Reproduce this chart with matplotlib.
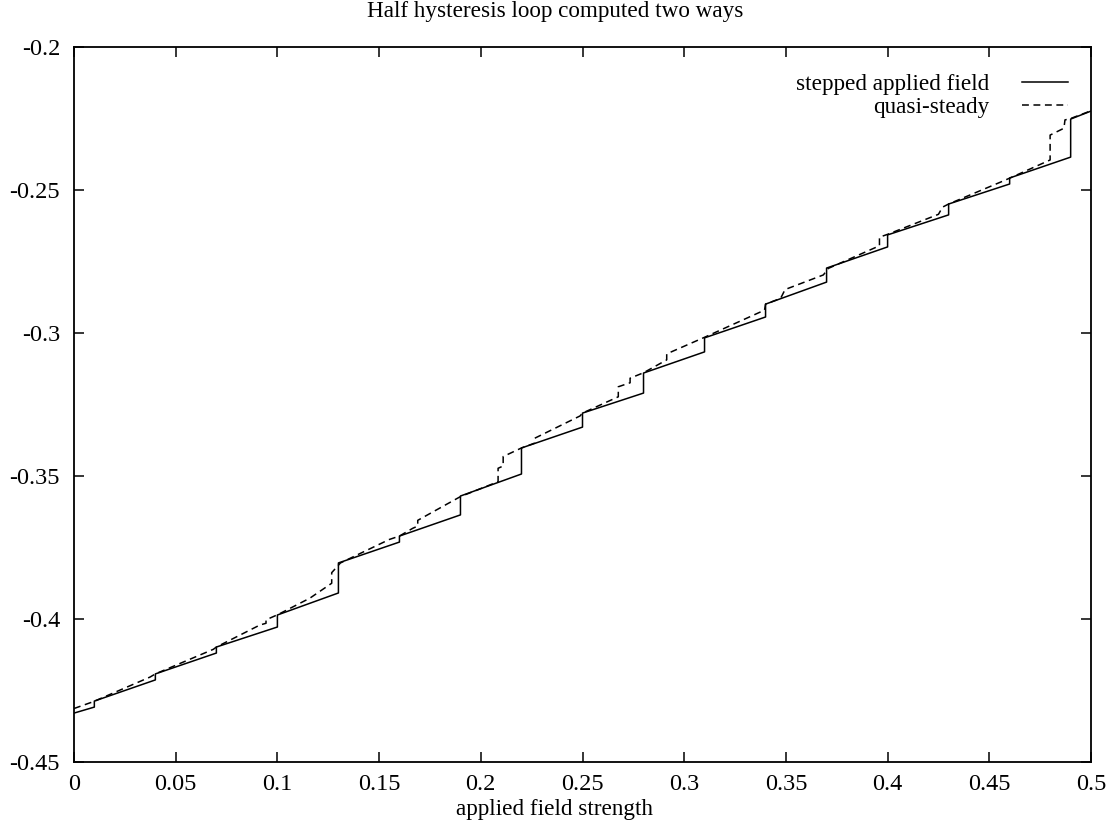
import matplotlib
matplotlib.use("Agg")
from matplotlib import pyplot as plt

plt.rcParams['font.family'] = ['Liberation Serif', 'DejaVu Serif']

# stepped applied field: segment ends with a vertical jump every 0.03
stepped_x = [0.0, 0.01, 0.01, 0.04, 0.04, 0.07, 0.07, 0.10, 0.10, 0.13, 0.13,
             0.16, 0.16, 0.19, 0.19, 0.22, 0.22, 0.25, 0.25, 0.28, 0.28,
             0.31, 0.31, 0.34, 0.34, 0.37, 0.37, 0.40, 0.40, 0.43, 0.43,
             0.46, 0.46, 0.49, 0.49, 0.50]
stepped_y = [-0.4329, -0.4308, -0.4287, -0.4213, -0.4192, -0.4119, -0.4098,
             -0.4028, -0.3986, -0.3909, -0.3804, -0.3731, -0.3710, -0.3636,
             -0.3570, -0.3493, -0.3402, -0.3329, -0.3280, -0.3210, -0.3140,
             -0.3066, -0.3017, -0.2944, -0.2899, -0.2822, -0.2773, -0.2699,
             -0.2657, -0.2587, -0.2549, -0.2479, -0.2458, -0.2385, -0.2252,
             -0.2224]

# quasi-steady run
quasi_x = [0.0, 0.0095, 0.0374, 0.04, 0.0685, 0.07, 0.0914, 0.0944, 0.0944,
           0.1004, 0.116, 0.1267, 0.1267, 0.131, 0.155, 0.16, 0.1665, 0.169,
           0.169, 0.19, 0.2085, 0.2085, 0.211, 0.211, 0.22, 0.2265, 0.2265,
           0.2488, 0.25, 0.2676, 0.2676, 0.2734, 0.2734, 0.28, 0.2914, 0.2914,
           0.31, 0.3395, 0.34, 0.3474, 0.3496, 0.3684, 0.3709, 0.396, 0.396,
           0.40, 0.425, 0.427, 0.43, 0.457, 0.4605, 0.4799, 0.4799, 0.4867,
           0.4872, 0.49, 0.50]
quasi_y = [-0.4313, -0.4289, -0.4203, -0.4192, -0.4106, -0.4098, -0.4021,
           -0.4015, -0.4003, -0.3984, -0.3927, -0.3875, -0.3838, -0.3804,
           -0.3722, -0.3710, -0.3683, -0.3675, -0.3655, -0.3572, -0.3520,
           -0.3473, -0.3465, -0.3432, -0.3402, -0.3385, -0.3368, -0.3290,
           -0.3280, -0.3223, -0.3188, -0.3174, -0.3158, -0.3139, -0.3094,
           -0.3073, -0.3015, -0.2920, -0.2899, -0.2879, -0.2848, -0.2797,
           -0.2774, -0.2695, -0.2665, -0.2655, -0.2585, -0.2560, -0.2549,
           -0.2468, -0.2457, -0.2395, -0.2308, -0.2284, -0.2255, -0.2250,
           -0.2223]

x_ticks = [0, 0.05, 0.1, 0.15, 0.2, 0.25, 0.3, 0.35, 0.4, 0.45, 0.5]
x_labels = ['0', '0.05', '0.1', '0.15', '0.2', '0.25', '0.3', '0.35', '0.4', '0.45', '0.5']
y_ticks = [-0.45, -0.4, -0.35, -0.3, -0.25, -0.2]
y_labels = ['-0.45', '-0.4', '-0.35', '-0.3', '-0.25', '-0.2']

fs = 16.7

fig = plt.figure(figsize=(11.1, 8.27), dpi=100)
ax = fig.add_axes([74 / 1110, 1 - 762 / 827, 1017 / 1110, 715 / 827])

ax.plot(stepped_x, stepped_y, color='black', lw=1.1, label='stepped applied field')
ax.plot(quasi_x, quasi_y, color='black', lw=1.1, dashes=(4.5, 3), label='quasi-steady')

ax.set_xlim(0, 0.5)
ax.set_ylim(-0.45, -0.2)
ax.set_xticks(x_ticks)
ax.set_xticklabels(x_labels)
ax.set_yticks(y_ticks)
ax.set_yticklabels(y_labels)
ax.tick_params(direction='in', length=7, width=1.1, labelsize=17.5,
               top=True, right=True)
ax.tick_params(axis='y', pad=10)
ax.tick_params(axis='x', pad=9)
for s in ax.spines.values():
    s.set_linewidth(1.3)

# title and axis label are centred on the whole page, not the axes
fig.text(0.5, 1 - 12 / 827, 'Half hysteresis loop computed two ways',
         fontsize=fs, ha='center', va='center')
fig.text(0.5, 1 - 810 / 827, 'applied field strength',
         fontsize=fs, ha='center', va='center')

ax.legend(loc='upper right', bbox_to_anchor=(1 - 23 / 1017, 1 - 27 / 715),
          frameon=False, markerfirst=False, fontsize=fs, handlelength=2.0,
          handletextpad=1.4, labelspacing=0.08, borderaxespad=0, borderpad=0)

fig.savefig('out.png', dpi=100)
